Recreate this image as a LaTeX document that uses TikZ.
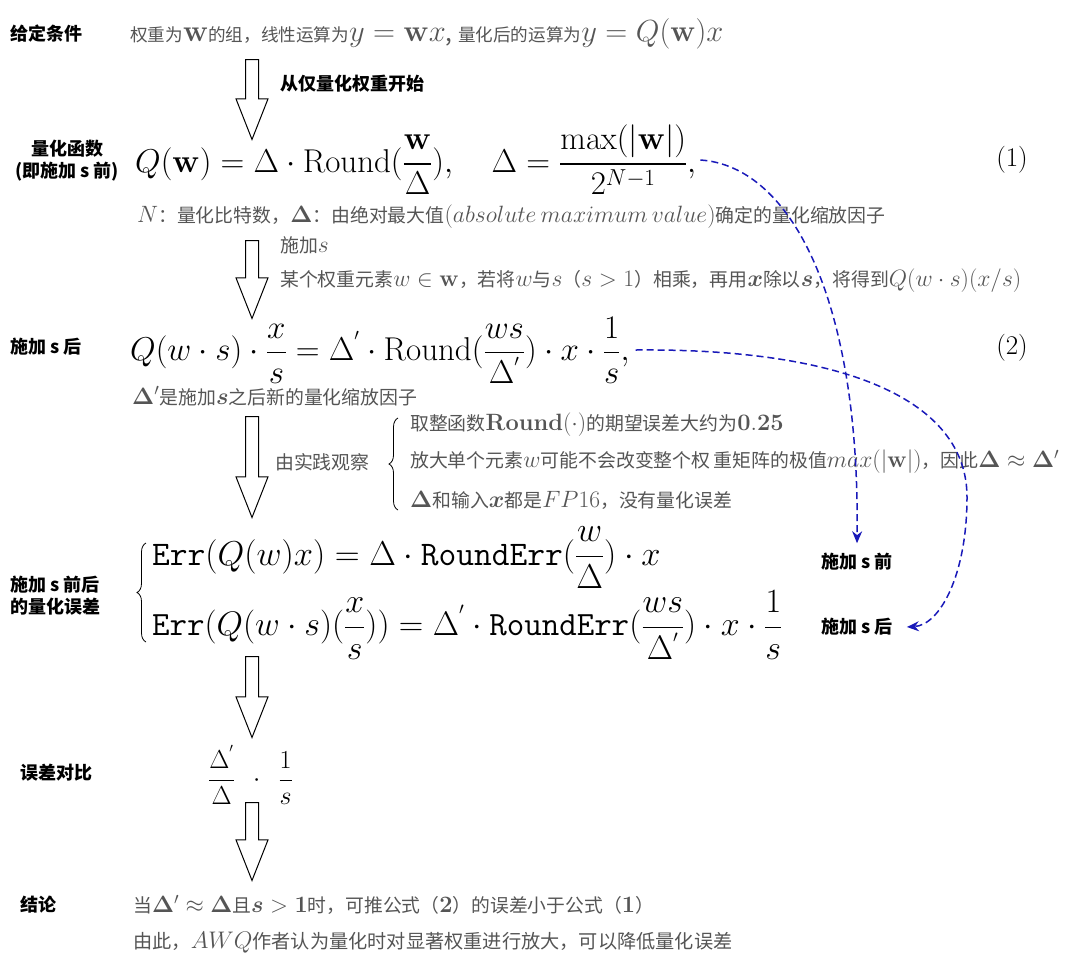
\RequirePackage{fix-cm}
\documentclass[tikz,border=0pt]{standalone}
\usepackage{amsmath,amssymb,bm}
\usepackage[no-math]{fontspec}
\newfontfamily\cjk[Scale=0.8]{Noto Sans CJK SC}
\usepackage{xcolor}
\definecolor{txt}{RGB}{85,85,85}
\definecolor{linkblue}{RGB}{25,25,185}
\usetikzlibrary{arrows.meta,shapes.arrows,decorations.pathreplacing}
\tikzset{
  sect/.style={font=\cjk\bfseries\fontsize{22.5}{22}\selectfont,align=center,inner sep=0pt},
  desc/.style={font=\cjk\fontsize{23.6}{28}\selectfont,text=txt,anchor=west,inner sep=0pt},
  formula/.style={font=\fontsize{33}{38}\selectfont,anchor=west,inner sep=0pt},
  hollow/.style={single arrow,draw,line width=1pt,shape border rotate=270,%
    inner sep=6pt,single arrow head extend=9.5pt,single arrow tip angle=43,%
    single arrow head indent=0pt,anchor=tail},
  link/.style={-{Stealth[length=12pt,width=10pt]},line width=1.5pt,%
    dash pattern=on 7pt off 4pt,draw=linkblue},
  curly/.style={decorate,decoration={brace,amplitude=9pt},line width=0.8pt},
}
\newcommand{\zhsmall}[1]{{\fontsize{22}{26}\selectfont #1}}

\begin{document}
\begin{tikzpicture}[x=1pt,y=-1pt]
\useasboundingbox (0,0) rectangle (1078,978);
% left column
\node[sect,anchor=west] (lgiven) at (10,34) {给定条件};
\node[sect] (lquant) at (67,161) {量化函数\\(即施加 s 前)};
\node[sect,anchor=west] (lafter) at (10,347) {施加 s 后};
\node[sect,anchor=west,align=left] (lerr) at (10,596) {施加 s 前后\\的量化误差};
\node[sect,anchor=west] (lcomp) at (20,773) {误差对比};
\node[sect,anchor=west] (lconc) at (20,905) {结论};
% given
\node[desc,font=\cjk\fontsize{30.5}{34}\selectfont] (tgiven) at (130,34)
  {\zhsmall{权重为}$\mathbf{w}$\zhsmall{的组，线性运算为}$y=\mathbf{w}x$, \zhsmall{量化后的运算为}$y=Q(\mathbf{w})x$};
\node[hollow,minimum height=80pt] (arr1) at (252,59) {};
\node[sect,anchor=west] (tstart) at (280,84) {从仅量化权重开始};
% quantization function
\node[formula] (f1) at (135,160)
  {$Q(\mathbf{w})=\Delta\cdot\mathrm{Round}(\dfrac{\mathbf{w}}{\Delta}),\quad\Delta=\dfrac{\max(|\mathbf{w}|)}{2^{N-1}},$};
\node[formula,font=\fontsize{27}{32}\selectfont,anchor=center] (n1) at (1012,160) {(1)};
\node[desc] (tnote1) at (137,217)
  {$N$：量化比特数，$\mathbf{\Delta}$：由绝对最大值$(absolute\ maximum\ value)$确定的量化缩放因子};
\node[hollow,minimum height=78pt] (arr2) at (252,240) {};
\node[desc] (tapply) at (280,245) {施加$s$};
\node[desc] (tmult) at (280,281)
  {某个权重元素$w\in\mathbf{w}$，若将$w$与$s$（$s>1$）相乘，再用$\boldsymbol{x}$除以$\boldsymbol{s}$，将得到$Q(w\cdot s)(x/s)$};
% after scaling
\node[formula] (f2) at (130,350)
  {$Q(w\cdot s)\cdot\dfrac{x}{s}=\Delta^{'}\cdot\mathrm{Round}(\dfrac{ws}{\Delta^{'}})\cdot x\cdot\dfrac{1}{s},$};
\node[formula,font=\fontsize{27}{32}\selectfont,anchor=center] (n2) at (1012,348) {(2)};
\node[desc] (tnote2) at (132,396) {$\mathbf{\Delta}'$是施加$\boldsymbol{s}$之后新的量化缩放因子};
\node[hollow,minimum height=101pt] (arr3) at (252,416) {};
\node[desc] (tobs) at (275,462) {由实践观察};
\node[desc] (obs1) at (410,425) {取整函数$\mathbf{Round(\cdot)}$的期望误差大约为$\mathbf{0.25}$};
\node[desc] (obs2) at (410,462)
  {放大单个元素$w$可能不会改变整个权\,重矩阵的极值$max(|\mathbf{w}|)$，因此$\mathbf{\Delta}\approx\mathbf{\Delta}'$};
\node[desc] (obs3) at (410,500) {$\mathbf{\Delta}$和输入$\boldsymbol{x}$都是$FP16$，没有量化误差};
\draw[curly] ([xshift=-12pt,yshift=-10pt]obs3.west) -- ([xshift=-12pt,yshift=7pt]obs1.west);
% errors
\node[formula,font=\fontsize{34.5}{40}\selectfont] (err1) at (152,558)
  {$\mathtt{Err}(Q(w)x)=\Delta\cdot\mathtt{RoundErr}(\dfrac{w}{\Delta})\cdot x$};
\node[formula,font=\fontsize{34}{40}\selectfont] (err2) at (152,625)
  {$\mathtt{Err}(Q(w\cdot s)(\dfrac{x}{s}))=\Delta^{'}\cdot\mathtt{RoundErr}(\dfrac{ws}{\Delta^{'}})\cdot x\cdot\dfrac{1}{s}$};
\draw[curly] ([xshift=-6pt,yshift=-17pt]err2.west) -- ([xshift=-6pt,yshift=15pt]err1.west);
\node[sect] (before) at (857,562) {施加 s 前};
\node[sect] (after) at (857,627) {施加 s 后};
\draw[link] ([xshift=4pt]f1.east) .. controls +(90,6) and +(3,-245) .. ([yshift=10pt]before.north);
\draw[link] ([xshift=6pt]f2.east) .. controls +(209,-2) and +(0,-97) .. (967,497)
  .. controls +(0,78) and +(33,-2) .. ([xshift=14pt]after.east);
\node[hollow,minimum height=81pt] (arr4) at (252,656) {};
% comparison and conclusion
\node[formula,font=\fontsize{26}{30}\selectfont] (ratio) at (208,775)
  {$\dfrac{\Delta^{'}}{\Delta}\ \,\cdot\,\ \dfrac{1}{s}$};
\node[hollow,minimum height=78pt] (arr5) at (252,802) {};
\node[desc,font=\cjk\fontsize{23.5}{30}\selectfont] (tconc1) at (133,905)
  {当$\mathbf{\Delta}'\approx\mathbf{\Delta}$且$\boldsymbol{s}>\mathbf{1}$时，可推公式（$\mathbf{2}$）的误差小于公式（$\mathbf{1}$）};
\node[desc,font=\cjk\fontsize{24}{30}\selectfont] (tconc2) at (133,943)
  {由此，$AWQ$作者认为量化时对显著权重进行放大，可以降低量化误差};
\end{tikzpicture}
\end{document}
